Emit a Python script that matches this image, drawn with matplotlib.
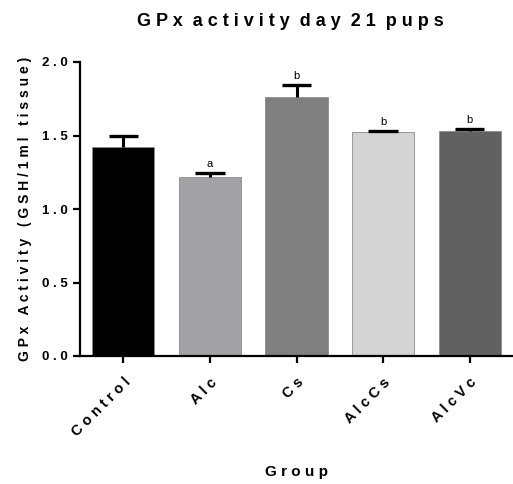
import matplotlib
matplotlib.use("Agg")
import matplotlib.pyplot as plt
import numpy as np

# data
groups = ["Control", "Alc", "Cs", "AlcCs", "AlcVc"]
means = [1.42, 1.215, 1.76, 1.522, 1.531]
sem = [0.074, 0.027, 0.082, 0.008, 0.012]
letters = ["", "a", "b", "b", "b"]
colors = ["#000000", "#a2a1a5", "#808080", "#d4d4d4", "#616161"]
yticks = [0.0, 0.5, 1.0, 1.5, 2.0]


def spaced(s, gap="   "):
    # GraphPad-style wide letter spacing
    return gap.join(" ".join(w) for w in s.split(" "))


plt.rcParams["font.family"] = ["Liberation Sans", "DejaVu Sans"]

fig = plt.figure(figsize=(5.13, 4.84), dpi=100)
ax = fig.add_axes([80 / 513, 1 - 356 / 484, 433 / 513, 294 / 484])

x = np.arange(len(groups))
ax.bar(x, means, width=0.72, color=colors, edgecolor="#8c8c8c", linewidth=0.6, zorder=2)

# upper-only error bars (no cap at the bar top)
tops = np.array(means) + np.array(sem)
cap = 0.17
ax.vlines(x, means, tops, colors="black", linewidth=2.2, zorder=3)
ax.hlines(tops, x - cap, x + cap, colors="black", linewidth=2.4, zorder=3)

for xi, t, lab in zip(x, tops, letters):
    if lab:
        ax.text(xi, t + 0.03, lab, ha="center", va="bottom", fontsize=8)

ax.set_xlim(-0.5, 4.5)
ax.set_ylim(0, 2.0)
ax.set_yticks(yticks)
ax.set_yticklabels([spaced(f"{v:.1f}") for v in yticks], fontsize=9.5, fontweight="bold")
ax.set_xticks(x)
ax.set_xticklabels([spaced(g) for g in groups], rotation=45, ha="right",
                   rotation_mode="anchor", fontsize=10.5, fontweight="bold")

for side in ["top", "right"]:
    ax.spines[side].set_visible(False)
for side in ["left", "bottom"]:
    ax.spines[side].set_linewidth(1.6)
ax.tick_params(axis="both", width=1.6, length=5, pad=4)
ax.tick_params(axis="x", pad=9)

ax.set_xlabel(spaced("Group"), fontsize=11, fontweight="bold")
ax.xaxis.set_label_coords(0.5, -0.37)
ax.set_ylabel(spaced("GPx Activity (GSH/1ml tissue)"), fontsize=10, fontweight="bold", labelpad=7)
ax.set_title(spaced("GPx activity day 21 pups", "  "), fontsize=13, fontweight="bold",
             pad=26, x=0.487)

fig.savefig("out.png", dpi=100)
